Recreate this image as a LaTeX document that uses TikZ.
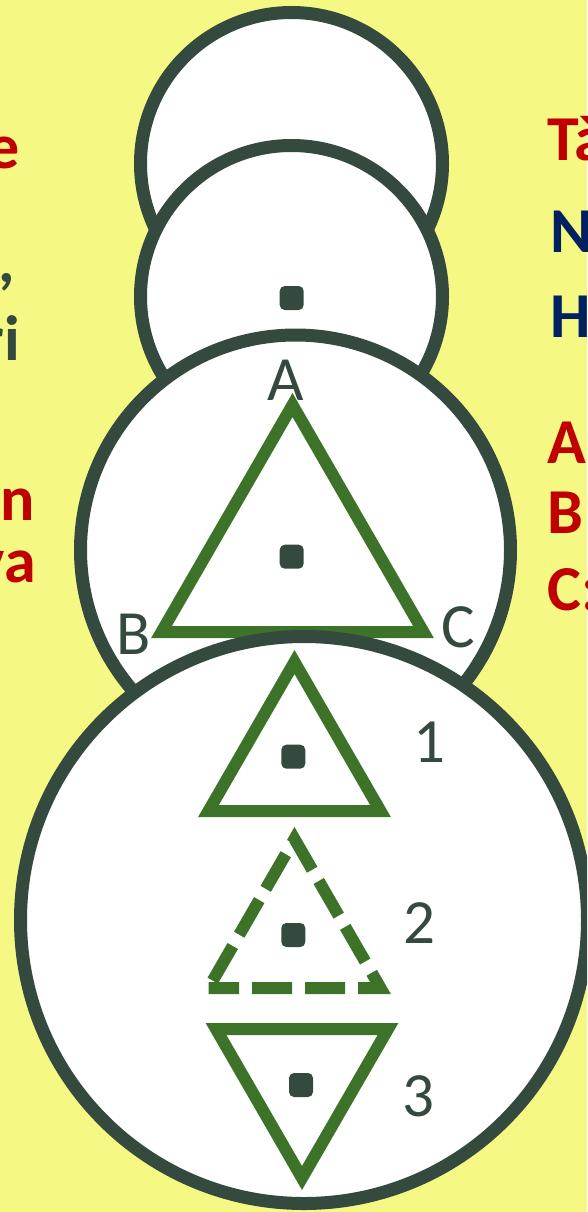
\documentclass[tikz,border=0pt]{standalone}
\usepackage{fontspec}
\setmainfont{Carlito}
\definecolor{bgyellow}{HTML}{F5F983}
\definecolor{ink}{HTML}{344A3F}
\definecolor{leaf}{HTML}{3D7328}
\definecolor{myred}{HTML}{C00000}
\definecolor{mynavy}{HTML}{002060}
\tikzset{
  ring/.style={draw=ink, fill=white, line width=13pt},
  tri/.style={draw=leaf, line width=12pt, line join=miter},
  dotmark/.style={rectangle, fill=ink, rounded corners=5pt, minimum size=24pt, inner sep=0pt},
  lbl/.style={text=ink, font=\fontsize{63}{63}\selectfont, inner sep=0pt},
  sidetxt/.style={font=\bfseries\fontsize{64}{64}\selectfont, inner sep=0pt}
}
\begin{document}
\begin{tikzpicture}[x=1pt,y=-1pt]
\useasboundingbox (0,0) rectangle (587,1212);
\clip (0,0) rectangle (587,1212);
\fill[bgyellow] (0,0) rectangle (587,1212);

% side text fragments (cut by the edges, as in the reference)
\node[sidetxt, text=myred, anchor=base east] (le) at (20,168) {e};
\node[sidetxt, text=ink, anchor=base east] (lc) at (15,282) {,};
\node[sidetxt, text=ink, anchor=base east] (lri) at (20,360) {ri};
\node[sidetxt, text=myred, anchor=base east] (ln) at (35,520) {n};
\node[sidetxt, text=myred, anchor=base east] (lva) at (36,582) {va};
\node[sidetxt, text=myred, anchor=base west] (rt) at (547,160) {Tà};
\node[sidetxt, text=mynavy, anchor=base west] (rn) at (550,252) {N};
\node[sidetxt, text=mynavy, anchor=base west] (rh) at (550,337) {H};
\node[sidetxt, text=myred, anchor=base west] (ra) at (547,463) {A};
\node[sidetxt, text=myred, anchor=base west] (rb) at (547,533) {B};
\node[sidetxt, text=myred, anchor=base west] (rc) at (547,610) {C:};

% circles, stacked from top to bottom
\draw[ring] (291.5,163.5) circle[radius=151];
\draw[ring] (291.5,296.5) circle[radius=151];
\node[dotmark] (d0) at (291.7,298) {};

\draw[ring] (295.5,550) circle[radius=215];
\draw[tri] (161.5,632) -- (292.5,405) -- (423.5,632) -- cycle;
\node[dotmark] (d1) at (291.7,556.7) {};
\node[lbl] (la) at (285.7,380) {A};
\node[lbl] (lb) at (133.5,634) {B};
\node[lbl] (lcc) at (458,627) {C};

\draw[ring] (304,920) circle[radius=283.5];

% triangle 1
\draw[tri] (208.5,811) -- (294.5,662) -- (380.5,811) -- cycle;
\node[dotmark] (d2) at (293.3,756.7) {};
\node[lbl] (n1) at (429.5,742.5) {1};

% triangle 2 (dashed)
\draw[tri, dash pattern=on 40pt off 13pt, dash phase=44.5pt] (208.5,988) -- (294.5,839) -- (380.5,988) -- cycle;
\node[dotmark] (d3) at (293.3,935) {};
\node[lbl] (n2) at (419,923.5) {2};

% triangle 3 (inverted)
\draw[tri] (216,1029) -- (388,1029) -- (302,1178) -- cycle;
\node[dotmark] (d4) at (301,1085) {};
\node[lbl] (n3) at (418,1096) {3};
\end{tikzpicture}
\end{document}
